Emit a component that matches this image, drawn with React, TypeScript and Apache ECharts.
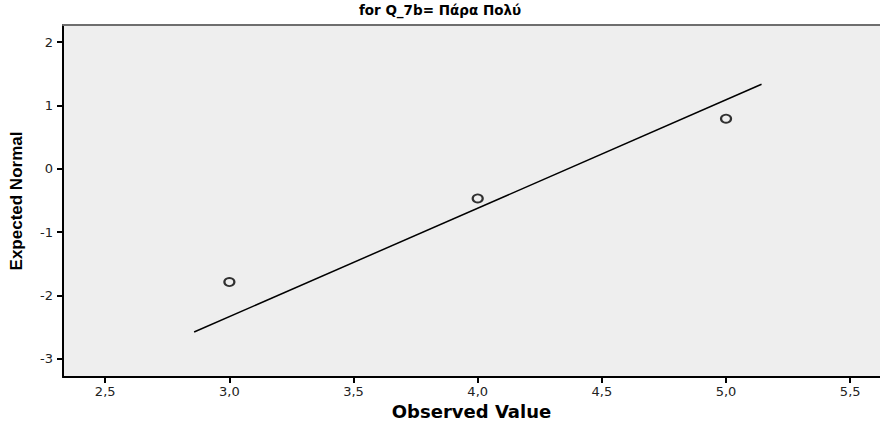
import React, { useEffect, useRef } from "react";
import * as echarts from "echarts";

const titleText = "for Q_7b= Πάρα Πολύ";
const xName = "Observed Value";
const yName = "Expected Normal";
const xTicks = [2.5, 3.0, 3.5, 4.0, 4.5, 5.0, 5.5];
const yTicks = [-3, -2, -1, 0, 1, 2];
const observed = [3.0, 4.0, 5.0];
const expected = [-1.79, -0.47, 0.79];
const lineX = [2.858, 5.143];
const lineY = [-2.58, 1.335];

export default function App() {
  const ref = useRef<HTMLDivElement>(null);
  useEffect(() => {
    if (!ref.current) return;
    const chart = echarts.init(ref.current, null, { renderer: "svg" });
    const font = "'Liberation Sans', Arial, sans-serif";
    const wide = "'DejaVu Sans', Verdana, sans-serif";
    chart.setOption({
      animation: false,
      backgroundColor: "#ffffff",
      title: {
        text: titleText,
        left: "center",
        top: 0,
        padding: [3, 5, 5, 5],
        textStyle: { fontFamily: wide, fontSize: 13.5, fontWeight: "bold", color: "#000" },
      },
      grid: {
        left: 63,
        top: 25,
        right: 0,
        bottom: 49,
        show: true,
        backgroundColor: "#eeeeee",
        borderWidth: 0,
      },
      xAxis: [
        {
          type: "value",
          min: 2.33,
          max: 5.62,
          name: xName,
          nameLocation: "middle",
          nameGap: 22,
          nameTextStyle: { fontFamily: wide, fontSize: 18, fontWeight: "bold", color: "#000" },
          axisLine: { show: true, onZero: false, lineStyle: { color: "#000", width: 2 } },
          axisTick: { show: true, length: 6, customValues: xTicks, lineStyle: { color: "#000", width: 2 } },
          axisLabel: {
            customValues: xTicks,
            margin: 8,
            fontFamily: wide,
            fontSize: 13,
            color: "#222",
            formatter: (v: number) => v.toFixed(1).replace(".", ","),
          },
          splitLine: { show: false },
        },
        {
          type: "value",
          position: "top",
          min: 2.33,
          max: 5.62,
          axisLine: { show: true, onZero: false, lineStyle: { color: "#6e6e6e", width: 2 } },
          axisTick: { show: false },
          axisLabel: { show: false },
          splitLine: { show: false },
        },
      ],
      yAxis: {
        type: "value",
        min: -3.29,
        max: 2.27,
        name: yName,
        nameLocation: "middle",
        nameGap: 38,
        nameRotate: 90,
        nameTextStyle: {
          fontFamily: "'Liberation Sans Narrow', " + font,
          fontSize: 17,
          fontWeight: "bold",
          color: "#000",
        },
        axisLine: { show: true, onZero: false, lineStyle: { color: "#000", width: 2 } },
        axisTick: { show: true, length: 6, customValues: yTicks, lineStyle: { color: "#000", width: 2 } },
        axisLabel: {
          customValues: yTicks,
          margin: 10,
          fontFamily: wide,
          fontSize: 13,
          color: "#222",
        },
        splitLine: { show: false },
      },
      series: [
        {
          type: "line",
          data: lineX.map((x, i) => [x, lineY[i]]),
          showSymbol: false,
          symbol: "none",
          lineStyle: { color: "#000", width: 1.5 },
          silent: true,
        },
        {
          type: "scatter",
          data: observed.map((x, i) => [x, expected[i]]),
          symbol: "circle",
          symbolSize: [10, 8],
          itemStyle: { color: "#eeeeee", borderColor: "#000", borderWidth: 2 },
        },
      ],
    });
    return () => chart.dispose();
  }, []);
  return (
    <div
      ref={ref}
      style={{ position: "fixed", left: 0, top: 0, width: 880, height: 426 }}
    />
  );
}
